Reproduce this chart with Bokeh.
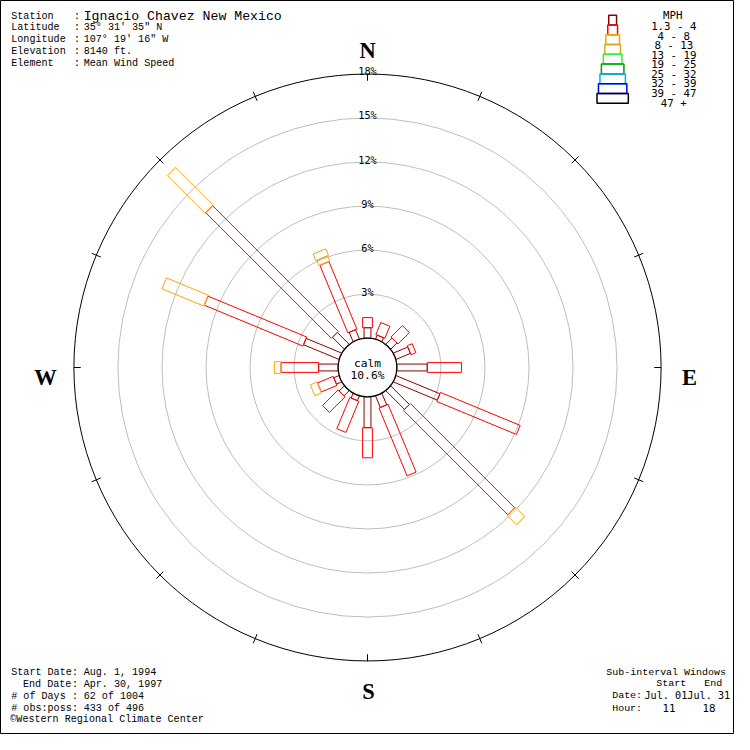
import math
from bokeh.plotting import figure
from bokeh.models import Range1d
from bokeh.core.properties import value
from bokeh.embed import file_html
from bokeh.resources import INLINE

# ---------------- data ----------------
directions = ["N", "NNE", "NE", "ENE", "E", "ESE", "SE", "SSE",
              "S", "SSW", "SW", "WSW", "W", "WNW", "NW", "NNW"]
speed_bins = ["1.3 - 4", "4 - 8", "8 - 13", "13 - 19", "19 - 25",
              "25 - 32", "32 - 39", "39 - 47", "47 +"]
# percent of observations in each speed bin, per direction
pct_1_3_4 = [0.71, 0.29, 0.60, 1.07, 2.07, 3.24, 1.80, 0.85,
             2.10, 0.35, 0.50, 0.39, 1.33, 2.62, 1.14, 0.69]
pct_4_8 = [0.69, 0.89, 1.10, 0.36, 2.33, 5.88, 10.05, 5.00,
           2.05, 2.30, 1.50, 1.16, 2.56, 7.28, 12.10, 4.98]
pct_8_13 = [0, 0, 0, 0, 0, 0, 0.90, 0,
            0, 0, 0, 0.50, 0.45, 3.08, 3.65, 0.40]
pct_13_19 = [0, 0, 0, 0, 0, 0, 0, 0,
             0, 0, 0, 0, 0, 0, 0, 0.48]
pct_19_25 = [0] * 16
pct_25_32 = [0] * 16
pct_32_39 = [0] * 16
pct_39_47 = [0] * 16
pct_47_up = [0] * 16
bin_values = [pct_1_3_4, pct_4_8, pct_8_13, pct_13_19, pct_19_25,
              pct_25_32, pct_32_39, pct_39_47, pct_47_up]
calm_pct = 10.6
ring_pcts = [3, 6, 9, 12, 15, 18]

header_labels = ["Station", "Latitude", "Longitude", "Elevation", "Element"]
header_values = ["Ignacio Chavez New Mexico", "35\u00b0 31' 35\" N",
                 "107\u00b0 19' 16\" W", "8140 ft.", "Mean Wind Speed"]
footer_labels = ["Start Date", "End Date", "# of Days", "# obs:poss"]
footer_values = ["Aug. 1, 1994", "Apr. 30, 1997", "62 of 1004", "433 of 496"]
window_dates = "Jul. 01Jul. 31"
window_hours = ["11", "18"]

# ---------------- styles / layout ----------------
bin_colors = ["#8B0000", "#FF0000", "#FFA500", "#DAA520", "#33EE33",
              "#009900", "#00AAFF", "#0000EE", "#000000"]
petal_widths = [7, 10, 12, 14, 16, 18, 20, 22, 24]
legend_widths = [8, 10, 14, 16, 19, 23, 26, 29, 32]
footer_label_x = [11, 23, 11, 11]
MONO = value("Liberation Mono")
SANSMONO = value("DejaVu Sans Mono")
SERIF = value("Liberation Serif")

W = 734                    # figure size (fits the window with its margin)
REF = 750.0                # layout is laid out in a 750-unit space
S = W / REF


def fs(px):
    return "%.2fpx" % (px * S)


CX, CY = 375.0, 375.0      # rose centre
PX = 15.0                  # units per percent
CALM_R = 30.0              # radius of calm circle

p = figure(width=W, height=W, x_range=Range1d(0, REF),
           y_range=Range1d(REF, 0), output_backend="svg",
           toolbar_location=None, min_border=0,
           x_axis_location=None, y_axis_location=None)
p.grid.visible = False
p.outline_line_color = "black"
p.outline_line_width = 1
p.background_fill_color = "white"
p.border_fill_color = "white"


def txt(x, y, t, font=MONO, size=10.3, align="left", **kw):
    if not isinstance(x, list):
        x, y, t = [x], [y], [t]
    p.text(x=x, y=y, text=t, text_font=font, text_font_size=fs(size),
           text_align=align, text_baseline="alphabetic", text_color="black", **kw)


# grid rings
ring_r = [CALM_R + PX * k for k in ring_pcts]
p.circle(x=[CX] * (len(ring_r) - 1), y=[CY] * (len(ring_r) - 1), radius=ring_r[:-1],
         fill_color=None, line_color="#BEBEBE", line_width=1)
p.circle(x=[CX], y=[CY], radius=[ring_r[-1]], fill_color=None,
         line_color="black", line_width=1)

# ticks on outer ring
tx0, ty0, tx1, ty1 = [], [], [], []
for d in range(16):
    th = math.radians(22.5 * d)
    if d % 4 == 0:
        a, b = ring_r[-1] - 7, ring_r[-1]
    else:
        a, b = ring_r[-1] - 5, ring_r[-1] + 5
    tx0.append(CX + a * math.sin(th)); ty0.append(CY - a * math.cos(th))
    tx1.append(CX + b * math.sin(th)); ty1.append(CY - b * math.cos(th))
p.segment(tx0, ty0, tx1, ty1, line_color="black", line_width=1)

# ring labels
txt([CX] * len(ring_pcts), [CY - r - 2.5 for r in ring_r],
    ["%d%%" % k for k in ring_pcts], font=SANSMONO, size=10.5, align="center")

# petals
cum = [0.0] * len(directions)
for b, vals in enumerate(bin_values):
    xs, ys = [], []
    for d in range(len(directions)):
        v = vals[d]
        if v <= 0:
            continue
        r0 = CALM_R + PX * cum[d]
        cum[d] += v
        r1 = CALM_R + PX * cum[d]
        th = math.radians(22.5 * d)
        ux, uy = math.sin(th), -math.cos(th)
        vx, vy = math.cos(th), math.sin(th)
        h = petal_widths[b] / 2.0
        xs.append([CX + r0 * ux + h * vx, CX + r1 * ux + h * vx,
                   CX + r1 * ux - h * vx, CX + r0 * ux - h * vx])
        ys.append([CY + r0 * uy + h * vy, CY + r1 * uy + h * vy,
                   CY + r1 * uy - h * vy, CY + r0 * uy - h * vy])
    if xs:
        p.patches(xs, ys, fill_alpha=0, line_color=bin_colors[b], line_width=1,
                  line_join="miter")

# calm circle
p.circle(x=[CX], y=[CY], radius=[CALM_R], fill_color="white", line_color="black",
         line_width=1.3)
txt([CX, CX], [371, 383], ["calm", "%.1f%%" % calm_pct], font=SANSMONO,
    size=11.5, align="center")

# compass letters
txt([375, 704, 376, 46], [51, 385, 706, 385], ["N", "E", "S", "W"], font=SERIF,
    size=23, align="center", text_font_style="bold")

# header block
for i, (lab, val) in enumerate(zip(header_labels, header_values)):
    by = 16 + 12 * i
    txt(11, by, lab)
    txt(75, by, ":")
    txt(85, by, val, size=13.5 if i == 0 else 10.3)

# footer block
for i, (lab, val) in enumerate(zip(footer_labels, footer_values)):
    by = 687 + 12 * i
    txt(footer_label_x[i], by, lab)
    txt(73, by, ":")
    txt(85, by, val)
txt(10, 735, "\u00a9Western Regional Climate Center")

# sub-interval windows
txt(619, 687, "Sub-interval Windows", size=10.2)
txt(670, 698, "Start", size=10.2)
txt(719, 698, "End", size=10.2)
txt(625, 710, "Date:", size=10.2)
txt(658, 710, window_dates, font=SANSMONO, size=10.4)
txt(625, 723, "Hour:", size=10.2)
txt([683, 724], [723, 723], window_hours, font=SANSMONO, size=11, align="center")

# legend
LX = 625.5
for i, lab in enumerate(speed_bins):
    top = 15 + 10 * i
    p.quad(left=[LX - legend_widths[i] / 2.0], right=[LX + legend_widths[i] / 2.0],
           top=[top], bottom=[top + 10], fill_alpha=0,
           line_color=bin_colors[i], line_width=1.5)
txt(687, 15, "MPH", font=SANSMONO, size=11, align="center")
txt([688] * len(speed_bins), [26.5 + 9.8 * i for i in range(len(speed_bins))],
    speed_bins, font=SANSMONO, size=11, align="center")

open("out.html", "w").write(file_html(p, INLINE))
